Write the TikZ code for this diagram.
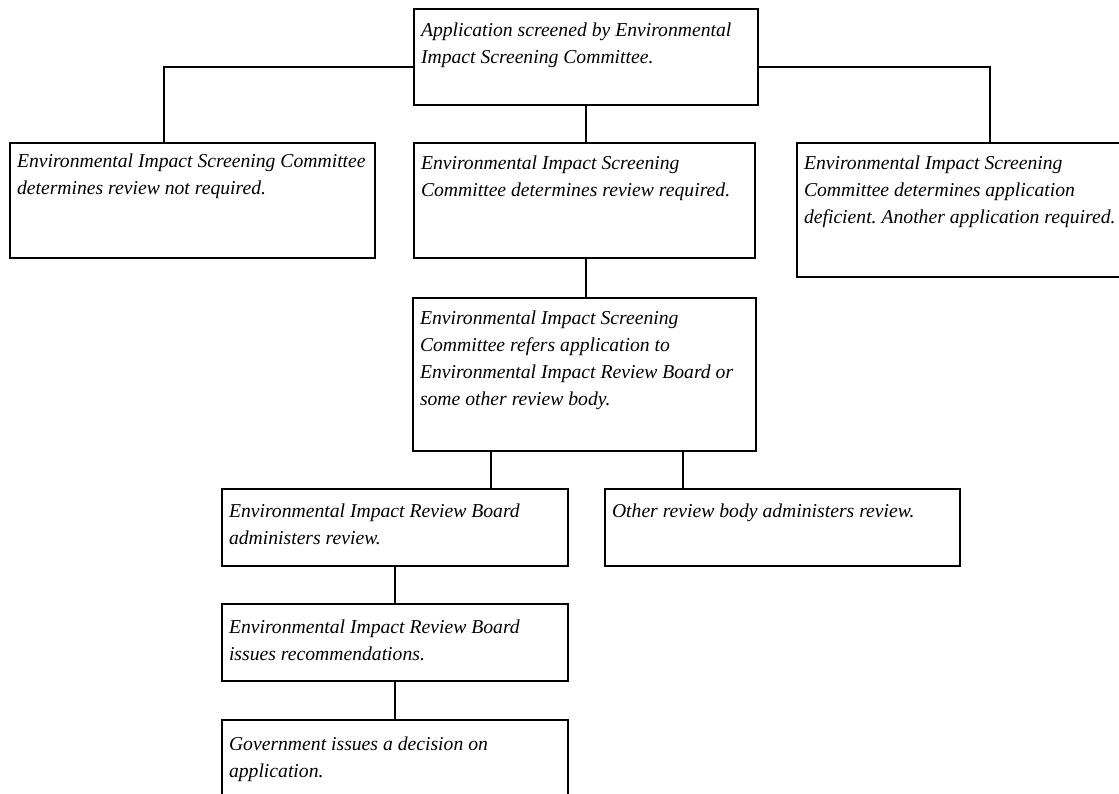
\documentclass[tikz,border=0pt]{standalone}
\usepackage{fontspec}
\setmainfont{Liberation Serif}
\usetikzlibrary{calc}
\newdimen\pxu
\pxu=0.75pt
\tikzset{
  fbox/.style={draw, line width=1.5pt, anchor=north west, inner xsep=7\pxu, inner ysep=0pt, outer sep=0pt,
    font=\fontsize{14.75pt}{20.25pt}\selectfont\itshape},
  conn/.style={line width=1.5pt}
}
\newcommand{\flowbox}[7]{%
  \node[fbox] (#1) at (#2,#3) {\begin{minipage}[t][\dimexpr#5\pxu\relax][t]{\dimexpr#4\pxu-14\pxu\relax}\raggedright\frenchspacing\rule{0pt}{#6\pxu}#7\end{minipage}};}
\begin{document}
\begin{tikzpicture}[x=0.75pt,y=-0.75pt]
\useasboundingbox (0,0) rectangle (1119,793);
\fill[white] (0,0) rectangle (1119,793);
\clip (0,0) rectangle (1119,793);
\flowbox{A}{414}{9}{344}{96}{27}{Application screened by Environmental\\Impact Screening Committee.}
\flowbox{B}{10}{143}{365}{115}{24}{Environmental Impact Screening Committee\\determines review not required.}
\flowbox{C}{414}{143}{341}{115}{26}{Environmental Impact Screening\\Committee determines review required.}
\flowbox{D}{797}{143}{340}{134}{26}{Environmental Impact Screening\\Committee determines application\\deficient. Another application required.}
\flowbox{E}{413}{298}{343}{153}{26}{Environmental Impact Screening\\Committee refers application to\\Environmental Impact Review Board or\\some other review body.}
\flowbox{F}{222}{489}{346}{77}{28}{Environmental Impact Review Board\\administers review.}
\flowbox{G}{605}{489}{355}{77}{28}{Other review body administers review.}
\flowbox{H}{222}{604}{346}{77}{29}{Environmental Impact Review Board\\issues recommendations.}
\flowbox{I}{222}{720}{346}{100}{30}{Government issues a decision on\\application.}
\coordinate (aw) at ($(A.north west)!0.604!(A.south west)$);
\coordinate (ae) at ($(A.north east)!0.604!(A.south east)$);
\coordinate (bn) at ($(B.north west)!0.4219!(B.north east)$);
\coordinate (dn) at ($(D.north west)!0.5676!(D.north east)$);
\coordinate (e1) at ($(E.south west)!0.2274!(E.south east)$);
\coordinate (e2) at ($(E.south west)!0.7872!(E.south east)$);
\draw[conn] (aw) -| (bn);
\draw[conn] (ae) -| (dn);
\draw[conn] (A.south) -- (A.south |- C.north);
\draw[conn] (C.south -| A.south) -- (E.north -| A.south);
\draw[conn] (e1) -- (e1 |- F.north);
\draw[conn] (e2) -- (e2 |- G.north);
\draw[conn] (F.south) -- (H.north);
\draw[conn] (H.south) -- (I.north);
\end{tikzpicture}
\end{document}
